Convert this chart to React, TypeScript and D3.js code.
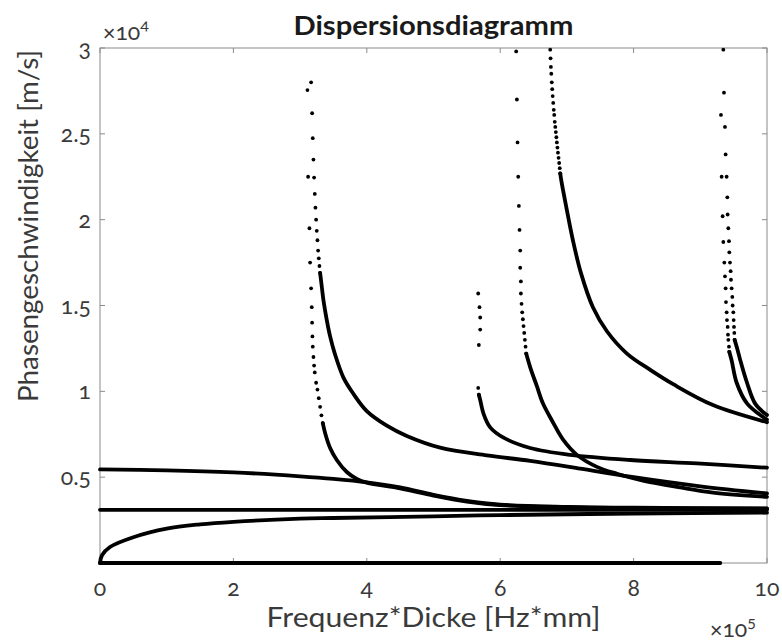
import React from 'react';
import * as d3 from 'd3';

type P = [number, number];

// axis ticks (x in 1e5 Hz*mm, y in 1e4 m/s)
const xTicks = [0, 2, 4, 6, 8, 10];
const xTickLabels = ['0', '2', '4', '6', '8', '10'];
const yTicks = [0.5, 1, 1.5, 2, 2.5, 3];
const yTickLabels = ['0.5', '1', '1.5', '2', '2.5', '3'];

// continuous (dense) parts of the dispersion branches
const zeroMode: P[] = [[0, 0], [9.3, 0]];
const a0Mode: P[] = [[0, 0], [0.03, 0.045], [0.15, 0.093], [0.5, 0.15], [1, 0.2], [1.5, 0.225], [2, 0.24], [3, 0.258], [3.5, 0.262], [5, 0.272], [6, 0.279], [7, 0.284], [8, 0.288], [10, 0.293]];
const shMode: P[] = [[0, 0.31], [10, 0.31]];
const s0Mode: P[] = [[0, 0.545], [1, 0.54], [2, 0.528], [3, 0.505], [3.5, 0.49], [4, 0.47], [4.5, 0.44], [5, 0.397], [5.5, 0.362], [6, 0.34], [7, 0.327], [8, 0.322], [10, 0.318]];
const e1Line: P[] = [[3.3, 1.69], [3.325, 1.61], [3.35, 1.53], [3.4, 1.415], [3.45, 1.32], [3.52, 1.22], [3.65, 1.08], [3.8, 0.985], [4.0, 0.885], [4.3, 0.8], [4.6, 0.74], [5.1, 0.672], [5.8, 0.627], [6.45, 0.595], [7.2, 0.55], [7.95, 0.503], [9, 0.447], [10, 0.405]];
const e2Line: P[] = [[3.34, 0.815], [3.38, 0.75], [3.45, 0.67], [3.55, 0.6], [3.7, 0.53], [3.85, 0.49], [4.0, 0.468], [4.5, 0.435], [5, 0.393], [5.5, 0.358], [6, 0.337], [7, 0.325], [8, 0.32], [10, 0.316]];
const fLine: P[] = [[5.68, 0.98], [5.7, 0.95], [5.75, 0.87], [5.85, 0.79], [6.05, 0.73], [6.45, 0.67], [7.05, 0.63], [7.95, 0.6], [8.95, 0.58], [10, 0.555]];
const gLine: P[] = [[6.39, 1.22], [6.45, 1.14], [6.55, 1.03], [6.64, 0.93], [6.79, 0.82], [6.94, 0.72], [7.15, 0.63], [7.45, 0.56], [7.75, 0.52], [8.14, 0.48], [8.7, 0.44], [9.19, 0.41], [10, 0.385]];
const hLine: P[] = [[6.9, 2.27], [6.915, 2.23], [6.99, 2.075], [7.09, 1.88], [7.21, 1.69], [7.39, 1.49], [7.6, 1.35], [7.9, 1.22], [8.25, 1.125], [8.6, 1.04], [9.19, 0.92], [10, 0.82]];
const p1Line: P[] = [[9.435, 1.23], [9.47, 1.18], [9.545, 1.05], [9.7, 0.93], [9.94, 0.85], [10, 0.835]];
const p2Line: P[] = [[9.515, 1.3], [9.56, 1.24], [9.6, 1.18], [9.7, 1.05], [9.82, 0.93], [9.97, 0.87], [10, 0.862]];

// sparse sample points near the cut-off frequencies
const e1Dots: P[] = [[3.165, 2.8], [3.18, 2.62], [3.19, 2.475], [3.2, 2.35], [3.21, 2.245], [3.22, 2.15], [3.23, 2.07], [3.24, 2.0], [3.25, 1.935], [3.26, 1.88], [3.27, 1.82], [3.28, 1.775], [3.29, 1.73], [3.3, 1.69]];
const e2Dots: P[] = [[3.11, 2.755], [3.12, 2.25], [3.14, 1.95], [3.15, 1.75], [3.165, 1.6], [3.175, 1.49], [3.18, 1.4], [3.185, 1.32], [3.19, 1.26], [3.2, 1.2], [3.21, 1.15], [3.22, 1.11], [3.24, 1.05], [3.26, 1.01], [3.28, 0.96], [3.3, 0.91], [3.32, 0.86], [3.34, 0.815]];
const fDots: P[] = [[5.67, 1.57], [5.69, 1.49], [5.7, 1.43], [5.7, 1.36], [5.68, 1.27], [5.67, 1.02], [5.68, 0.98]];
const gDots: P[] = [[6.24, 2.98], [6.25, 2.7], [6.26, 2.45], [6.27, 2.25], [6.28, 2.08], [6.29, 1.94], [6.3, 1.82], [6.3, 1.72], [6.31, 1.64], [6.31, 1.57], [6.32, 1.51], [6.33, 1.46], [6.34, 1.42], [6.35, 1.38], [6.36, 1.34], [6.37, 1.3], [6.38, 1.26], [6.39, 1.22]];
const hDots: P[] = [[6.75, 2.99], [6.755, 2.94], [6.76, 2.89], [6.766, 2.85], [6.773, 2.8], [6.78, 2.76], [6.787, 2.72], [6.795, 2.68], [6.803, 2.64], [6.81, 2.61], [6.818, 2.57], [6.826, 2.54], [6.834, 2.51], [6.842, 2.48], [6.85, 2.45], [6.858, 2.42], [6.866, 2.39], [6.875, 2.36], [6.884, 2.33], [6.893, 2.3], [6.9, 2.27]];
const p1Dots: P[] = [[9.345, 2.99], [9.31, 2.61], [9.32, 2.25], [9.335, 2.02], [9.345, 1.87], [9.36, 1.75], [9.37, 1.67], [9.38, 1.6], [9.385, 1.52], [9.395, 1.46], [9.4, 1.415], [9.41, 1.375], [9.415, 1.33], [9.42, 1.3], [9.43, 1.26], [9.435, 1.23]];
const p2Dots: P[] = [[9.355, 2.74], [9.37, 2.54], [9.38, 2.38], [9.395, 2.25], [9.405, 2.13], [9.41, 2.03], [9.42, 1.95], [9.43, 1.875], [9.435, 1.81], [9.445, 1.75], [9.455, 1.7], [9.46, 1.65], [9.47, 1.6], [9.48, 1.55], [9.485, 1.5], [9.495, 1.46], [9.5, 1.415], [9.505, 1.375], [9.51, 1.34], [9.515, 1.3]];

const denseSeries = [zeroMode, a0Mode, shMode, s0Mode, e1Line, e2Line, fLine, gLine, hLine, p1Line, p2Line];
const dotSeries = [e1Dots, e2Dots, fDots, gDots, hDots, p1Dots, p2Dots];

const W = 782;
const H = 642;
const left = 100, right = 767, top = 48, bottom = 563;
const FONT = "Lato, 'Open Sans', 'DejaVu Sans', sans-serif";
const TXT = '#3a3a3a';
const AX = '#8a8a8a';

export default function App() {
  const x = d3.scaleLinear().domain([0, 10]).range([left, right]);
  const y = d3.scaleLinear().domain([0, 3]).range([bottom, top]);
  const line = d3.line<P>().x(d => x(d[0])).y(d => y(d[1])).curve(d3.curveCatmullRom.alpha(0.5));
  const tl = 5;
  const cx = (left + right) / 2;
  const numStyle = { fontVariantNumeric: 'oldstyle-nums' as const };
  return (
    <svg width={W} height={H} viewBox={`0 0 ${W} ${H}`}
      style={{ position: 'absolute', left: 0, top: 0, background: '#fff', fontFamily: FONT }}>
      <rect x={0} y={0} width={W} height={H} fill="#fff" />
      {/* axes box */}
      <rect x={left} y={top} width={right - left} height={bottom - top} fill="none" stroke={AX} strokeWidth={1} />
      {xTicks.map(t => (
        <g key={'xt' + t}>
          <line x1={x(t)} x2={x(t)} y1={bottom} y2={bottom - tl} stroke={AX} />
          <line x1={x(t)} x2={x(t)} y1={top} y2={top + tl} stroke={AX} />
        </g>
      ))}
      {yTicks.map(t => (
        <g key={'yt' + t}>
          <line x1={left} x2={left + tl} y1={y(t)} y2={y(t)} stroke={AX} />
          <line x1={right} x2={right - tl} y1={y(t)} y2={y(t)} stroke={AX} />
        </g>
      ))}
      {/* curves */}
      {denseSeries.map((s, i) => (
        <path key={'l' + i} d={line(s) || ''} fill="none" stroke="#000" strokeWidth={3.8} strokeLinecap="round" strokeLinejoin="round" />
      ))}
      {dotSeries.map((s, i) => (
        <g key={'d' + i}>
          {s.map((p, j) => <circle key={j} cx={x(p[0])} cy={y(p[1])} r={1.9} fill="#000" />)}
        </g>
      ))}
      {/* tick labels */}
      {xTicks.map((t, i) => (
        <text key={'xl' + t} x={x(t)} y={596} textAnchor="middle" fontSize={23} fill={TXT} style={numStyle}>{xTickLabels[i]}</text>
      ))}
      {yTicks.map((t, i) => (
        <text key={'yl' + t} x={91} y={y(t) + 8} textAnchor="end" fontSize={23} fill={TXT} style={numStyle}>{yTickLabels[i]}</text>
      ))}
      {/* exponents */}
      <text x={103} y={40} fontSize={23} fill={TXT} style={numStyle}>×10<tspan fontSize={16} dy={-10}>4</tspan></text>
      <text x={710} y={637} fontSize={23} fill={TXT} style={numStyle}>×10<tspan fontSize={16} dy={-10}>5</tspan></text>
      {/* title and labels */}
      <text x={cx} y={35} textAnchor="middle" fontSize={27} fontWeight="bold" fill="#1a1a1a"
        textLength={280} lengthAdjust="spacingAndGlyphs">Dispersionsdiagramm</text>
      <text x={cx} y={627} textAnchor="middle" fontSize={27} fill={TXT}
        textLength={334} lengthAdjust="spacingAndGlyphs">Frequenz*Dicke [Hz*mm]</text>
      <text transform={`translate(38, 226) rotate(-90)`} textAnchor="middle" fontSize={27} fill={TXT}
        textLength={352} lengthAdjust="spacingAndGlyphs">Phasengeschwindigkeit [m/s]</text>
    </svg>
  );
}
